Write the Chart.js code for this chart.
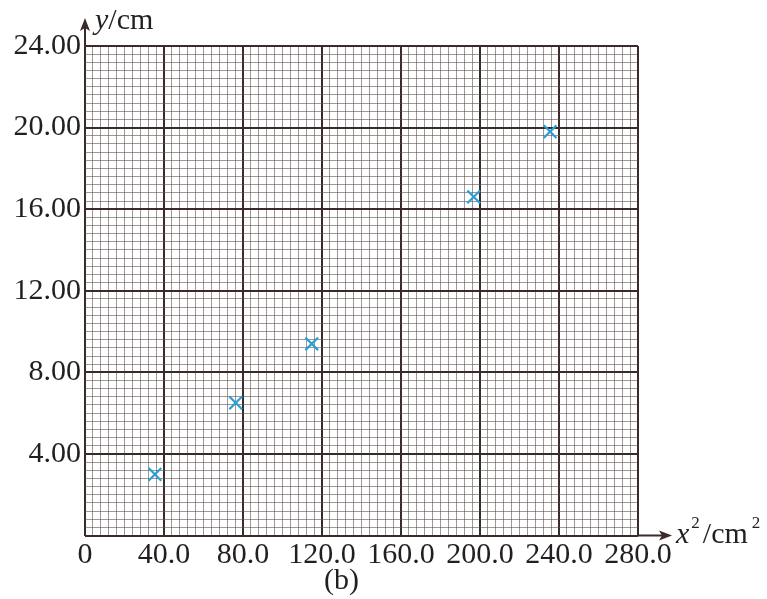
<!DOCTYPE html>
<html>
<head>
<meta charset="utf-8">
<script src="https://cdn.jsdelivr.net/npm/chart.js@4/dist/chart.umd.min.js"></script>
<style>
  html, body { margin: 0; padding: 0; background: #ffffff; }
  #wrap { width: 767px; height: 599px; }
</style>
</head>
<body>
<div id="wrap"><canvas id="c" width="767" height="599"></canvas></div>
<script>
// ---- data ----
const xValues = [35.4, 76.3, 114.8, 196.8, 235.5];   // x^2 / cm^2
const yValues = [3.0, 6.5, 9.4, 16.6, 19.8];         // y / cm
const xTickLabels = ['0', '40.0', '80.0', '120.0', '160.0', '200.0', '240.0', '280.0'];
const yTickLabels = ['', '4.00', '8.00', '12.00', '16.00', '20.00', '24.00'];
const xMajorStep = 40, xMinorStep = 4, xMax = 280;
const yMajorStep = 4, yMinorStep = 0.4, yMax = 24;

const SERIF = '"Liberation Serif", "Times New Roman", serif';
const TEXT = '#231f20';
const MAJOR = 'rgb(58,42,42)';
const MINOR = 'rgba(95,80,80,0.6)';

function majorIndex(v, step) {
  const r = v / step;
  return Math.abs(r - Math.round(r)) < 1e-6 ? Math.round(r) : -1;
}

const decorations = {
  id: 'decorations',
  afterDraw(chart) {
    const ctx = chart.ctx;
    const a = chart.chartArea;
    const x0 = chart.scales.x.getPixelForValue(0);
    const y0 = chart.scales.y.getPixelForValue(0);
    ctx.save();
    ctx.strokeStyle = MAJOR;
    ctx.fillStyle = MAJOR;
    ctx.lineWidth = 2;
    // y axis arrow
    const yTip = a.top - 28;
    ctx.beginPath(); ctx.moveTo(x0, a.top); ctx.lineTo(x0, yTip + 4); ctx.stroke();
    ctx.beginPath();
    ctx.moveTo(x0, yTip); ctx.lineTo(x0 - 5, yTip + 13); ctx.lineTo(x0, yTip + 10); ctx.lineTo(x0 + 5, yTip + 13);
    ctx.closePath(); ctx.fill();
    // x axis arrow
    const xTip = a.right + 34;
    ctx.beginPath(); ctx.moveTo(a.right, y0); ctx.lineTo(xTip - 4, y0); ctx.stroke();
    ctx.beginPath();
    ctx.moveTo(xTip, y0); ctx.lineTo(xTip - 13, y0 - 5); ctx.lineTo(xTip - 10, y0); ctx.lineTo(xTip - 13, y0 + 5);
    ctx.closePath(); ctx.fill();

    // axis titles
    ctx.fillStyle = TEXT;
    ctx.textBaseline = 'alphabetic';
    ctx.textAlign = 'left';
    // y/cm
    let tx = x0 + 10, ty = a.top - 17;
    ctx.font = 'italic 30px ' + SERIF;
    ctx.fillText('y', tx, ty);
    tx += ctx.measureText('y').width;
    ctx.font = '30px ' + SERIF;
    ctx.fillText('/cm', tx, ty);
    // x^2/cm^2
    tx = xTip + 4; ty = y0 + 7;
    ctx.font = 'italic 30px ' + SERIF;
    ctx.fillText('x', tx, ty);
    tx += ctx.measureText('x').width + 2;
    ctx.font = '17px ' + SERIF;
    ctx.fillText('2', tx, ty - 15);
    tx += ctx.measureText('2').width + 3;
    ctx.font = '30px ' + SERIF;
    ctx.fillText('/cm', tx, ty);
    tx += ctx.measureText('/cm').width + 4;
    ctx.font = '17px ' + SERIF;
    ctx.fillText('2', tx, ty - 15);

    // caption
    ctx.font = '30px ' + SERIF;
    ctx.textAlign = 'center';
    ctx.fillText('(b)', (a.left + a.right) / 2 - 20, chart.height - 10);
    ctx.restore();
  }
};

new Chart(document.getElementById('c'), {
  type: 'scatter',
  data: {
    datasets: [{
      data: xValues.map((x, i) => ({ x: x, y: yValues[i] })),
      pointStyle: 'crossRot',
      pointRadius: 9,
      pointHoverRadius: 9,
      borderColor: '#2b9fd4',
      backgroundColor: '#2b9fd4',
      pointBorderWidth: 2.2
    }]
  },
  options: {
    responsive: false,
    animation: false,
    events: [],
    layout: { padding: { top: 46, right: 129, left: 0, bottom: 0 } },
    plugins: { legend: { display: false }, tooltip: { enabled: false } },
    scales: {
      x: {
        type: 'linear',
        min: 0, max: xMax,
        border: { display: false },
        grid: {
          drawTicks: false,
          color: c => majorIndex(c.tick.value, xMajorStep) >= 0 ? MAJOR : MINOR,
          lineWidth: c => majorIndex(c.tick.value, xMajorStep) >= 0 ? 2 : 1
        },
        ticks: {
          stepSize: xMinorStep,
          autoSkip: false,
          maxRotation: 0,
          padding: 2,
          color: TEXT,
          font: { family: SERIF, size: 30 },
          callback: v => { const k = majorIndex(v, xMajorStep); return k >= 0 ? xTickLabels[k] : ''; }
        },
        afterFit: s => { s.height = 63.5; }
      },
      y: {
        type: 'linear',
        min: 0, max: yMax,
        border: { display: false },
        grid: {
          drawTicks: false,
          color: c => majorIndex(c.tick.value, yMajorStep) >= 0 ? MAJOR : MINOR,
          lineWidth: c => majorIndex(c.tick.value, yMajorStep) >= 0 ? 2 : 1
        },
        ticks: {
          stepSize: yMinorStep,
          autoSkip: false,
          padding: 4,
          color: TEXT,
          font: { family: SERIF, size: 30 },
          callback: v => { const k = majorIndex(v, yMajorStep); return k >= 0 ? yTickLabels[k] : ''; }
        },
        afterFit: s => { s.width = 85; }
      }
    }
  },
  plugins: [decorations]
});
</script>
</body>
</html>
